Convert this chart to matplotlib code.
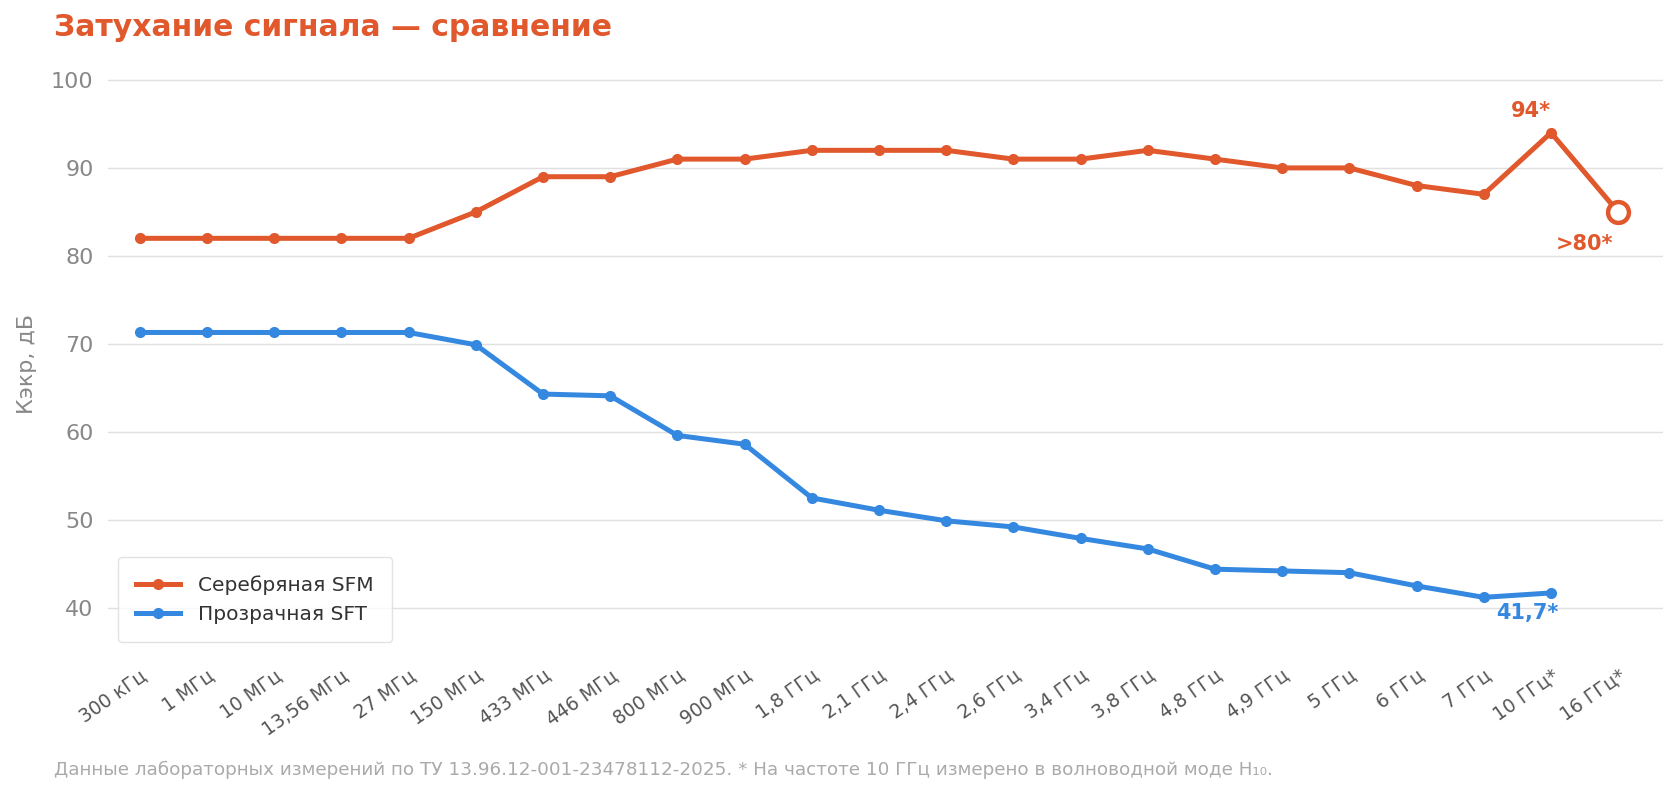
import matplotlib.pyplot as plt

freqs = ['300 кГц', '1 МГц', '10 МГц', '13,56 МГц', '27 МГц', '150 МГц', '433 МГц',
         '446 МГц', '800 МГц', '900 МГц', '1,8 ГГц', '2,1 ГГц', '2,4 ГГц', '2,6 ГГц',
         '3,4 ГГц', '3,8 ГГц', '4,8 ГГц', '4,9 ГГц', '5 ГГц', '6 ГГц', '7 ГГц',
         '10 ГГц*', '16 ГГц*']
sfm = [82, 82, 82, 82, 82, 85, 89, 89, 91, 91, 92, 92, 92, 91, 91, 92, 91, 90, 90,
       88, 87, 94, 85]
sft = [71.3, 71.3, 71.3, 71.3, 71.3, 69.9, 64.3, 64.1, 59.6, 58.6, 52.5, 51.1, 49.9,
       49.2, 47.9, 46.7, 44.4, 44.2, 44.0, 42.5, 41.2, 41.7]

ORANGE = '#E0582C'
BLUE = '#3588E0'

fig = plt.figure(figsize=(16.8, 7.95), dpi=100)
ax = fig.add_axes([0.064, 0.18, 0.926, 0.725])

x = list(range(len(freqs)))
ax.plot(x, sfm, color=ORANGE, lw=3.6, marker='o', ms=7, label='Серебряная SFM', zorder=3)
ax.plot(x[-1], sfm[-1], 'o', ms=15, mfc='white', mec=ORANGE, mew=3.2, zorder=4)
ax.plot(x[:len(sft)], sft, color=BLUE, lw=3.6, marker='o', ms=7, label='Прозрачная SFT', zorder=3)

# подписи у крайних точек
ax.text(20.7, 96.5, '94*', color=ORANGE, fontsize=15, fontweight='bold', ha='center', va='center')
ax.text(21.5, 81.4, '>80*', color=ORANGE, fontsize=15, fontweight='bold', ha='center', va='center')
ax.text(20.65, 39.4, '41,7*', color=BLUE, fontsize=15, fontweight='bold', ha='center', va='center')

ax.set_xlim(-0.48, 22.67)
ax.set_ylim(35, 100.5)
ax.set_yticks([40, 50, 60, 70, 80, 90, 100])
ax.set_xticks(x)
ax.set_xticklabels(freqs, rotation=35, ha='right', rotation_mode='anchor')
ax.tick_params(axis='x', labelsize=13.5, labelcolor='#555555', length=0, pad=10)
ax.tick_params(axis='y', labelsize=16, labelcolor='#888888', length=0, pad=10)
ax.grid(axis='y', color='#e0e0e0', lw=1)
ax.set_axisbelow(True)
for s in ax.spines.values():
    s.set_visible(False)
ax.set_ylabel('Кэкр, дБ', fontsize=16, color='#888888', labelpad=10)

leg = ax.legend(loc='lower left', bbox_to_anchor=(0.0, 0.0), fontsize=14.5, frameon=True,
                borderpad=0.9, handlelength=2.2, handletextpad=0.9, labelspacing=0.5,
                edgecolor='#dddddd')
for t in leg.get_texts():
    t.set_color('#333333')

fig.text(0.032, 0.965, 'Затухание сигнала — сравнение', fontsize=21.5, fontweight='bold',
         color=ORANGE, va='center', ha='left')
fig.text(0.032, 0.031, 'Данные лабораторных измерений по ТУ 13.96.12-001-23478112-2025. '
         '* На частоте 10 ГГц измерено в волноводной моде H₁₀.',
         fontsize=13.2, color='#aaaaaa', va='center', ha='left')

fig.savefig('out.png', dpi=100)
